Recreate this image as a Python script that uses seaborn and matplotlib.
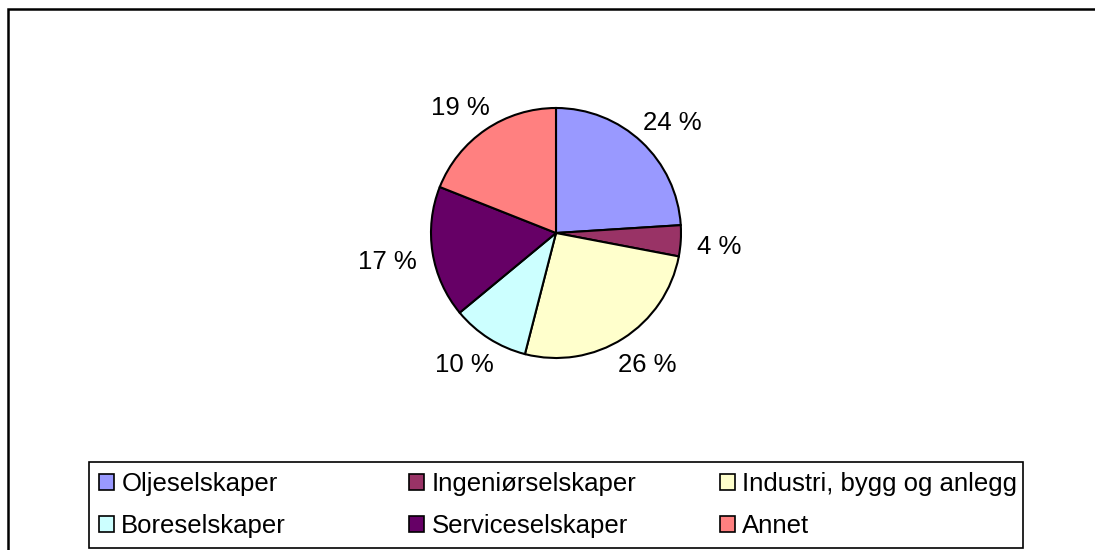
import matplotlib
matplotlib.use("Agg")
import numpy as np
import matplotlib.pyplot as plt
from matplotlib.patches import Patch, Rectangle
import seaborn as sns

categories = ["Oljeselskaper", "Ingeniørselskaper", "Industri, bygg og anlegg",
              "Boreselskaper", "Serviceselskaper", "Annet"]
shares = [24, 4, 26, 10, 17, 19]
colors = ["#9999FF", "#993366", "#FFFFCC", "#CCFFFF", "#660066", "#FF8080"]

sns.set_theme(style="white")
plt.rcParams["font.family"] = ["Liberation Sans", "DejaVu Sans"]
plt.rcParams["text.color"] = "black"

W, H = 1095, 550
FS = 18.5
fig = plt.figure(figsize=(W / 100, H / 100), dpi=100)
fig.patch.set_facecolor("white")

def fx(px):
    return px / W

def fy(py):
    return 1 - py / H

# outer chart frame (top and left edges visible)
fig.patches.append(Rectangle((fx(8), -0.2), 1.2, fy(9) + 0.2, transform=fig.transFigure,
                             fill=False, edgecolor="black", linewidth=1.8, zorder=0))

r = 125
cx, cy = 556, 233
ax = fig.add_axes([fx(cx - r), fy(cy + r), 2 * r / W, 2 * r / H])
wedges, texts = ax.pie(shares, colors=colors, startangle=90, counterclock=False,
                       labels=[f"{v} %" for v in shares], labeldistance=1.2,
                       wedgeprops=dict(edgecolor="black", linewidth=1.5),
                       textprops=dict(fontsize=FS, color="black"))
ax.set_aspect("equal")
ax.set_xlim(-1, 1)
ax.set_ylim(-1, 1)

# push each percentage label outward so its box sits just outside the rim
renderer = fig.canvas.get_renderer()
for w, t in zip(wedges, texts):
    theta = np.deg2rad((w.theta1 + w.theta2) / 2)
    ux, uy = np.cos(theta), np.sin(theta)
    t.set_ha("center")
    t.set_va("center")
    bb = t.get_window_extent(renderer)
    half_w, half_h = bb.width / 2 / r, bb.height / 2 / r
    R = 1.13
    drop = 0.04 if uy < 0 else 0.0
    t.set_position((R * ux + half_w * ux, R * uy + half_h * uy * 0.8 - drop))

# legend: three equally wide columns inside one frame
fig.patches.append(Rectangle((fx(89), fy(548)), fx(1023) - fx(89), fy(462) - fy(548),
                             transform=fig.transFigure, fill=False, edgecolor="black",
                             linewidth=1.2, zorder=1))
col_x = [99, 409, 720]
for c in range(3):
    idx = [c, c + 3]
    handles = [Patch(facecolor=colors[i], edgecolor="black", linewidth=1.2) for i in idx]
    fig.legend(handles, [categories[i] for i in idx], ncol=1,
               loc="center left", bbox_to_anchor=(fx(col_x[c]), fy(505)),
               fontsize=FS, frameon=False,
               handlelength=0.6, handleheight=0.6, handletextpad=0.27,
               borderpad=0, labelspacing=0.72, borderaxespad=0)

fig.savefig("out.png", dpi=100, facecolor="white")
